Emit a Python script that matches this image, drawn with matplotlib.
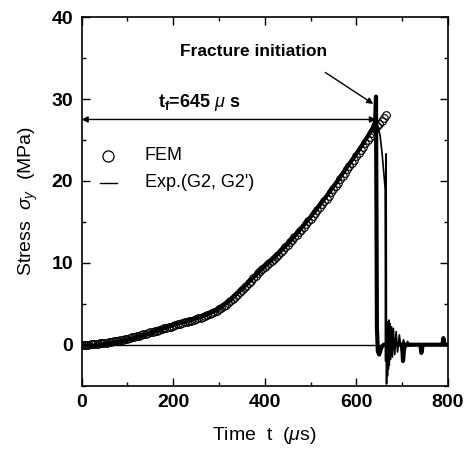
import matplotlib
matplotlib.use("Agg")
import matplotlib.pyplot as plt
from matplotlib.ticker import MultipleLocator

plt.rcParams['font.family'] = ['Liberation Sans', 'DejaVu Sans']
plt.rcParams['mathtext.fontset'] = 'custom'
plt.rcParams['mathtext.rm'] = 'Liberation Sans'
plt.rcParams['mathtext.it'] = 'Liberation Sans:italic'
plt.rcParams['mathtext.bf'] = 'Liberation Sans:bold'

# FEM result (open circles), every 5 us
fem_t = list(range(0, 670, 5))
fem_s = [0.0, 0.0, 0.0, 0.02, 0.05, 0.07, 0.1, 0.12, 0.15, 0.17, 0.2,
         0.25, 0.3, 0.35, 0.4, 0.45, 0.5, 0.55, 0.6, 0.68, 0.75,
         0.82, 0.9, 0.97, 1.05, 1.12, 1.2, 1.27, 1.35, 1.42, 1.5,
         1.57, 1.65, 1.72, 1.8, 1.9, 2.0, 2.07, 2.15, 2.22, 2.3,
         2.4, 2.5, 2.57, 2.65, 2.72, 2.8, 2.87, 2.95, 3.02, 3.1,
         3.2, 3.3, 3.4, 3.5, 3.62, 3.75, 3.87, 4.0, 4.15, 4.3,
         4.5, 4.7, 4.9, 5.1, 5.35, 5.6, 5.85, 6.1, 6.4, 6.7,
         6.95, 7.2, 7.5, 7.8, 8.1, 8.4, 8.7, 9.0, 9.25, 9.5,
         9.75, 10.0, 10.25, 10.5, 10.75, 11.0, 11.3, 11.6, 11.9, 12.2,
         12.5, 12.8, 13.1, 13.4, 13.7, 14.0, 14.35, 14.7, 15.05, 15.4,
         15.75, 16.1, 16.45, 16.8, 17.15, 17.5, 17.85, 18.2, 18.6, 19.0,
         19.4, 19.8, 20.2, 20.6, 21.0, 21.4, 21.8, 22.2, 22.6, 23.0,
         23.4, 23.8, 24.2, 24.6, 25.0, 25.4, 25.85, 26.3, 26.65, 27.0,
         27.35, 27.7, 28.0]

# experiment, gauge G2 (rise, fracture at 643 us, ringing)
g2_t = [0, 25, 50, 75, 100, 125, 150, 175, 200, 225, 250, 275, 300, 325,
        350, 375, 400, 425, 450, 475, 500, 525, 550, 575, 600, 620, 635,
        641, 643, 645, 647, 650, 655, 660, 680, 700, 702, 705, 720, 740,
        742, 745, 760, 788, 790, 793, 800]
g2_s = [-0.1, -0.1, 0.1, 0.3, 0.6, 1.0, 1.4, 1.9, 2.4, 2.8, 3.2, 3.7, 4.4,
        5.5, 6.8, 8.2, 9.6, 10.9, 12.3, 13.9, 15.6, 17.4, 19.3, 21.3, 23.3,
        25.0, 26.4, 27.2, 30.3, 2.0, -0.8, -1.2, -0.3, 0.0, 0.0, 0.0, -2.0,
        0.0, 0.0, 0.0, -1.0, 0.0, 0.0, 0.0, 0.8, 0.0, 0.0]

# experiment, gauge G2' (after peak)
g2b_t = [638, 645, 648, 652, 656, 660, 663, 664, 665, 666, 667, 668, 669,
         670, 671, 672, 673, 675, 677, 679, 681, 684, 687, 690, 694, 698,
         703, 708, 712, 716, 720, 730]
g2b_s = [26.0, 27.0, 26.5, 25.5, 23.5, 21.0, 19.0, -2.0, 23.3, -4.8, 2.5,
         -3.8, 2.8, -3.0, 3.0, -2.5, 2.6, -1.8, 2.2, -1.5, 2.0, -1.2, 1.6,
         -0.9, 1.2, -0.6, 0.6, -0.4, 0.4, -0.2, 0.0, 0.0]

baseline_t = [0, 800]
baseline_s = [0, 0]

fig = plt.figure(figsize=(4.77, 4.5), dpi=100)
ax = fig.add_axes([0.171, 0.143, 0.768, 0.819])

ax.plot(baseline_t, baseline_s, color='black', lw=1.0)
ax.plot(g2_t, g2_s, color='black', lw=3.0, solid_joinstyle='round')
ax.plot(g2b_t, g2b_s, color='black', lw=1.2)
ax.plot(fem_t, fem_s, linestyle='none', marker='o', ms=5.5, mfc='none',
        mec='black', mew=0.8)

ax.set_xlim(0, 800)
ax.set_ylim(-5, 40)
ax.xaxis.set_major_locator(MultipleLocator(200))
ax.xaxis.set_minor_locator(MultipleLocator(100))
ax.yaxis.set_major_locator(MultipleLocator(10))
ax.yaxis.set_minor_locator(MultipleLocator(5))
ax.tick_params(which='both', direction='in', top=True, right=True)
ax.tick_params(which='major', length=6, width=1, labelsize=14, pad=6)
ax.tick_params(which='minor', length=3, width=1)
for lab in ax.get_xticklabels() + ax.get_yticklabels():
    lab.set_fontweight('bold')
for s in ax.spines.values():
    s.set_linewidth(1.2)

ax.set_xlabel(r'Time  t  ($\mu$s)', fontsize=14, labelpad=10)
ax.set_ylabel(r'Stress  $\sigma_y$  (MPa)', fontsize=14, labelpad=8)

# t_f arrow
ax.annotate('', xy=(0, 27.5), xytext=(643, 27.5),
            arrowprops=dict(arrowstyle='<|-|>', color='black', lw=1.0,
                            mutation_scale=9, shrinkA=0, shrinkB=0))
ax.text(258, 29.6, r'$\mathbf{t_f}$=645 $\mu$ s', fontsize=13,
        fontweight='bold', ha='center', va='center')

# fracture initiation
ax.annotate('Fracture initiation', xy=(637, 29.4), xytext=(375, 35.8),
            fontsize=12.5, fontweight='bold', ha='center', va='center',
            arrowprops=dict(arrowstyle='-|>', color='black', lw=1.0,
                            mutation_scale=9, shrinkA=14, shrinkB=0,
                            relpos=(0.85, 0)))

# legend
ax.plot([58], [23.1], linestyle='none', marker='o', ms=8, mfc='none',
        mec='black', mew=0.9)
ax.plot([40, 78], [19.8, 19.8], color='black', lw=1.0)
ax.text(138, 23.1, 'FEM', fontsize=13, va='center')
ax.text(138, 19.8, "Exp.(G2, G2')", fontsize=13, va='center')

fig.savefig('out.png', dpi=100)
